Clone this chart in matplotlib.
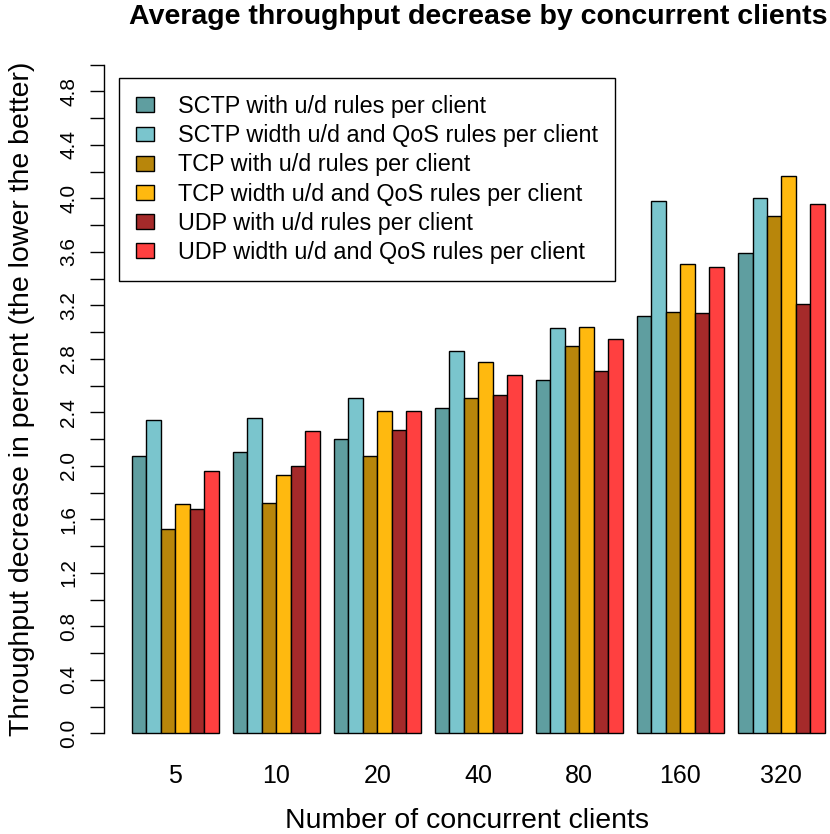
import matplotlib
matplotlib.use("Agg")
import matplotlib.pyplot as plt
import numpy as np

plt.rcParams['font.family'] = ['Liberation Sans', 'DejaVu Sans']

clients = ["5", "10", "20", "40", "80", "160", "320"]
series_names = [
    "SCTP with u/d rules per client",
    "SCTP width u/d and QoS rules per client",
    "TCP with u/d rules per client",
    "TCP width u/d and QoS rules per client",
    "UDP with u/d rules per client",
    "UDP width u/d and QoS rules per client",
]
sctp_ud = [2.07, 2.10, 2.20, 2.43, 2.64, 3.12, 3.59]
sctp_qos = [2.34, 2.36, 2.51, 2.86, 3.03, 3.98, 4.00]
tcp_ud = [1.53, 1.72, 2.07, 2.505, 2.90, 3.15, 3.87]
tcp_qos = [1.715, 1.93, 2.41, 2.78, 3.04, 3.51, 4.17]
udp_ud = [1.68, 2.00, 2.27, 2.53, 2.71, 3.14, 3.21]
udp_qos = [1.96, 2.26, 2.41, 2.68, 2.95, 3.49, 3.96]
series = [sctp_ud, sctp_qos, tcp_ud, tcp_qos, udp_ud, udp_qos]
colors = ["#5F9EA0", "#7AC5CD", "#B8860B", "#FFB90F", "#A52A2A", "#FF4040"]

W, H = 830, 834
fig = plt.figure(figsize=(W / 100, H / 100), dpi=100)

left_px, right_px = 104.3, 830
top_px, bottom_px = 38.0, 760.0
ax = fig.add_axes([left_px / W, 1 - bottom_px / H, (right_px - left_px) / W, (bottom_px - top_px) / H])

n_groups = len(clients)
n_series = len(series)
group_w = n_series + 1
for s_idx, (vals, col, name) in enumerate(zip(series, colors, series_names)):
    xs = [g * group_w + 1 + s_idx for g in range(n_groups)]
    ax.bar(xs, vals, width=1.0, align='edge', color=col, edgecolor='black',
           linewidth=1.0, label=name)

ax.set_xlim(-0.92, 49.37)
ax.set_ylim(-0.2, 5.2)

centers = [g * group_w + 1 + n_series / 2 for g in range(n_groups)]
ax.set_xticks(centers)
ax.set_xticklabels(clients, fontsize=18)
ax.tick_params(axis='x', length=0, pad=3)

yt = np.round(np.arange(0, 5.01, 0.2), 1)
ax.set_yticks(yt)
ax.set_yticklabels([f"{v:.1f}" if i % 2 == 0 and v < 4.9 else "" for i, v in enumerate(yt)],
                   rotation=90, va='center', fontsize=15)
ax.tick_params(axis='y', length=9.8, width=1.0, pad=9)

for sp in ['top', 'right', 'bottom']:
    ax.spines[sp].set_visible(False)
ax.spines['left'].set_bounds(0, 5.0)
ax.spines['left'].set_linewidth(1.0)

ax.set_xlabel("Number of concurrent clients", fontsize=20.5)
ax.xaxis.set_label_coords(467 / W, 1 - 821 / H, transform=fig.transFigure)
ax.xaxis.label.set_va('center')
ax.set_ylabel("Throughput decrease in percent (the lower the better)", fontsize=20.5)
ax.yaxis.set_label_coords(22 / W, 1 - 399 / H, transform=fig.transFigure)
ax.yaxis.label.set_va('center')

fig.text(478 / W, 1 - 17 / H, "Average throughput decrease by concurrent clients",
         ha='center', va='center', fontsize=20.5, fontweight='bold')

leg = ax.legend(loc='upper left', bbox_to_anchor=(119.3 / W, 1 - 78.3 / H),
                bbox_transform=fig.transFigure, fontsize=16.8, frameon=True,
                fancybox=False, edgecolor='black', framealpha=1,
                handlelength=0.77, handleheight=0.6, handletextpad=1.03,
                labelspacing=0.265, borderpad=0.72, borderaxespad=0)
leg.get_frame().set_linewidth(1.0)

fig.savefig("out.png", dpi=100)
